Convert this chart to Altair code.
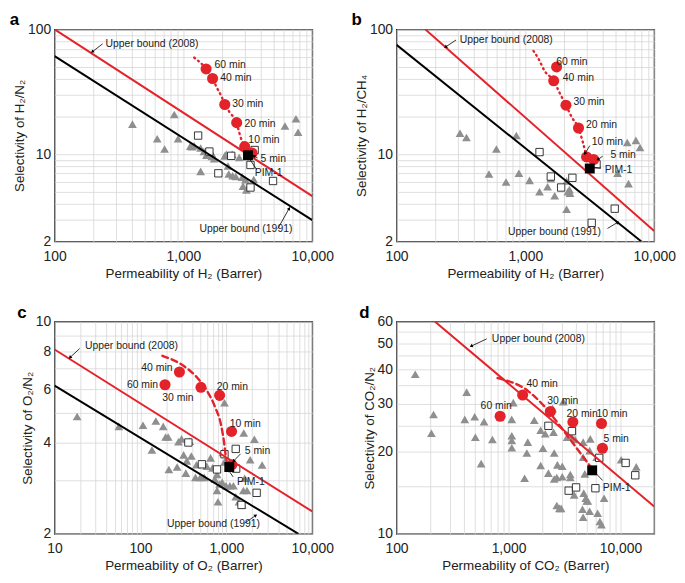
import math
import altair as alt
import pandas as pd

FONT = "Liberation Sans"
RED = "#e4222a"
TRI_GREY = "#8f8f8f"
W, H = 260, 214

# ---------------- panel a : H2/N2 ----------------
A_TRI_X = [402, 626, 714, 849, 909, 1132, 1213, 1167, 1360, 1442, 1526, 1663, 1360, 1663, 1730, 2090, 2150,
           2390, 2710, 2218, 2250, 2410, 2550, 2860, 3030, 2900, 3080, 3513, 6140, 7470, 7760, 1512]
A_TRI_Y = [17.4, 13.3, 11.0, 20.8, 13.3, 11.6, 11.7, 11.5, 11.2, 10.5, 10.0, 10.1, 7.28, 9.6, 9.2, 9.7, 10.0,
           10.0, 9.4, 8.05, 6.93, 6.73, 6.62, 6.55, 6.24, 5.55, 5.16, 6.27, 16.8, 19.2, 15.0, 9.8]
A_SQ_X = [1300, 1590, 1866, 2348, 3572, 3315, 4960, 3315]
A_SQ_Y = [14.1, 10.5, 7.03, 9.7, 10.8, 8.2, 6.1, 5.41]
A_RED_X = [1500, 1683, 2094, 2590, 2990, 3414]
A_RED_Y = [48.2, 40.4, 25.0, 17.9, 11.5, 10.2]
A_PIM = [3170, 9.8]
A_CURVE_X = [1213, 1500, 1683, 1809, 1972, 2094, 2304, 2590, 2707, 2835, 2990]
A_CURVE_Y = [59.4, 48.2, 40.4, 34.4, 29.1, 25.0, 21.4, 17.9, 15.0, 12.9, 11.5]
A_UB08_X = [100, 10000]
A_UB08_Y = [100, 4.61]
A_UB91_X = [100, 10000]
A_UB91_Y = [61, 2.96]
A_TXT = ["60 min", "40 min", "30 min", "20 min", "10 min", "5 min", "PIM-1", "Upper bound (2008)", "Upper bound (1991)"]
A_TXT_X = [1683, 1866, 2307, 2870, 3080, 3830, 3450, 240, 1284]
A_TXT_Y = [52.1, 40.4, 25.0, 17.4, 12.9, 9.07, 7.07, 76.6, 2.53]
A_TXT_AL = ["left"] * 9
A_ARR = [(3758, 9.34, 3508, 9.68), (3715, 7.5, 3218, 9.34), (236, 76.6, 196, 66), (5400, 2.53, 6620, 3.68)]

# ---------------- panel b : H2/CH4 ----------------
B_TRI_X = [311, 349, 596, 522, 708, 851, 891, 1078, 1288, 1488, 1689, 1576, 2089, 2138, 2220, 2089, 2200,
           5200, 6320, 6180, 7210, 7760]
B_TRI_Y = [14.7, 13.6, 11.0, 6.94, 5.99, 14.1, 7.03, 6.17, 5.01, 5.48, 4.64, 6.35, 6.09, 5.01, 4.88, 3.62, 5.2,
           7.03, 5.81, 12.4, 12.9, 11.3]
B_SQ_X = [1288, 1576, 2317, 1895, 3568, 4940, 3273]
B_SQ_Y = [10.4, 6.62, 6.47, 5.41, 8.29, 3.66, 2.82]
B_RED_X = [1748, 1660, 2065, 2585, 2985, 3388]
B_RED_Y = [50.0, 38.7, 24.7, 16.2, 9.51, 9.07]
B_PIM = [3162, 7.68]
B_CURVE_X = [1155, 1259, 1413, 1660, 1830, 2065, 2304, 2585, 2786, 2985]
B_CURVE_Y = [67.2, 58.6, 46.3, 38.7, 31.5, 24.7, 19.6, 16.2, 12.6, 9.51]
B_UB08_X = [167, 10000]
B_UB08_Y = [100, 2.42]
B_UB91_X = [100, 7950]
B_UB91_Y = [75.2, 2]
B_TXT = ["60 min", "40 min", "30 min", "20 min", "10 min", "5 min", "PIM-1", "Upper bound (2008)", "Upper bound (1991)"]
B_TXT_X = [1679, 1884, 2278, 2851, 3162, 4416, 3981, 299, 708]
B_TXT_Y = [54.6, 40.4, 26.4, 17.2, 12.6, 9.8, 7.5, 82.7, 2.39]
B_TXT_AL = ["left"] * 9
B_ARR = [(3162, 11.7, 2900, 10.1), (3981, 9.62, 3652, 9.07), (3868, 7.72, 3255, 7.91), (290, 82.2, 240, 72.2),
         (4340, 2.54, 5220, 2.85)]

# ---------------- panel c : O2/N2 ----------------
C_TRI_X = [18.3, 56, 107, 151, 184, 196, 210, 136, 277, 301, 318, 391, 346, 214, 267, 337, 437, 374, 449, 497,
           552, 591, 655, 690, 733, 778, 834, 894, 991, 1099, 1208, 1285, 1400, 778, 799, 1527, 1578, 950, 1593,
           2118, 1892, 2606, 909, 950, 1634, 1738]
C_TRI_Y = [4.87, 4.52, 4.56, 4.71, 4.52, 4.17, 4.17, 3.78, 4.02, 4.11, 3.64, 3.61, 3.48, 3.26, 3.32, 3.17, 3.07,
           4.04, 3.38, 3.07, 3.07, 3.34, 3.56, 3.30, 3.03, 3.14, 2.92, 2.96, 2.88, 2.88, 2.88, 2.65, 2.55, 2.78,
           2.55, 2.49, 2.78, 5.41, 4.30, 4.10, 3.51, 3.37, 3.71, 3.45, 3.05, 2.78]
C_SQ_X = [361, 519, 778, 950, 1285, 1300, 2250, 1500]
C_SQ_Y = [4.0, 3.39, 3.26, 3.66, 3.81, 3.28, 2.73, 2.49]
C_RED_X = [193, 284, 506, 834, 1148, 1158]
C_RED_Y = [6.20, 6.83, 6.08, 5.72, 4.35, 3.38]
C_PIM = [1081, 3.32]
C_CURVE_X = [180, 323, 456, 591, 733, 871, 950, 991, 1081]
C_CURVE_Y = [7.72, 7.13, 6.55, 5.94, 5.26, 4.54, 3.92, 3.55, 3.34]
C_UB08_X = [10, 10000]
C_UB08_Y = [8.10, 2.37]
C_UB91_X = [10, 6900]
C_UB91_Y = [6.16, 2]
C_TXT = ["60 min", "40 min", "30 min", "20 min", "10 min", "5 min", "PIM-1", "Upper bound (2008)", "Upper bound (1991)"]
C_TXT_X = [169, 249, 437, 733, 1035, 1552, 1262, 21.4, 193]
C_TXT_Y = [6.2, 7.05, 5.61, 6.08, 4.59, 3.75, 2.97, 8.32, 2.15]
C_TXT_AL = ["right", "right", "right", "left", "left", "left", "left", "left", "left"]
C_ARR = [(1462, 3.67, 1209, 3.47), (1199, 3.08, 1062, 3.24), (19.6, 8.16, 15.1, 7.62), (1636, 2.17, 2200, 2.30)]

# ---------------- panel d : CO2/N2 ----------------
D_TRI_X = [147, 214, 205, 423, 407, 499, 506, 570, 605, 718, 1104, 1069, 1070, 1070, 1070, 1392, 1486, 1458, 1698,
           1937, 1937, 2030, 2127, 2271, 2525, 2558, 2558, 2475, 2698, 2733, 3020, 3020, 3080, 2700, 2850, 2950,
           3334, 3562, 3562, 3683, 3855, 3935, 4580, 4641, 4641, 4700, 4800, 4900, 5000, 5100, 4641, 5300, 5370,
           5300, 6252, 6546, 6768, 7136, 10140, 13830, 6126]
D_TRI_Y = [38.5, 27.4, 23.4, 33.1, 26.3, 26.9, 22.6, 18.1, 25.8, 22.2, 30.3, 26.3, 22.9, 22.0, 20.7, 16.0, 21.7, 19.8,
           26.1, 24.0, 17.8, 20.6, 23.3, 16.7, 23.6, 19.8, 15.9, 28.8, 16.1, 17.9, 17.7, 16.2, 30.5, 12.7, 12.4, 12.4,
           22.6, 16.5, 16.1, 22.6, 13.9, 22.2, 12.3, 21.7, 19.1, 14.1, 16.6, 13.5, 13.2, 13.2, 11.5, 12.1, 22.3,
           20.2, 11.9, 11.1, 10.8, 13.5, 18.7, 17.6, 19.1]
D_SQ_X = [2271, 3683, 6457, 3446, 4013, 5970, 11120, 13550]
D_SQ_Y = [24.9, 23.8, 19.0, 14.4, 14.8, 14.7, 18.2, 16.4]
D_RED_X = [842, 1338, 2364, 3756, 6768, 6902]
D_RED_Y = [27.0, 32.3, 28.1, 25.7, 25.4, 20.6]
D_PIM = [5587, 17.1]
D_CURVE_X = [799, 1497, 2098, 2733, 4067, 5479]
D_CURVE_Y = [37.3, 33.4, 29.3, 25.6, 20.6, 17.5]
D_UB08_X = [221, 20000]
D_UB08_Y = [60, 12.6]
D_TXT = ["60 min", "40 min", "30 min", "20 min", "10 min", "5 min", "PIM-1", "Upper bound (2008)"]
D_TXT_X = [541, 1392, 2127, 3162, 5850, 6768, 6680, 682]
D_TXT_Y = [29.5, 35.3, 30.8, 27.5, 27.5, 22.2, 14.7, 51.7]
D_TXT_AL = ["left"] * 8
D_ARR = [(6918, 15.7, 5850, 16.9), (638, 51.9, 464, 48.8)]


def mults(lo, hi):
    out = []
    e = 10 ** math.floor(math.log10(lo) + 1e-9)
    while e <= hi:
        for m in range(1, 10):
            v = m * e
            if lo - 1e-9 <= v <= hi + 1e-9:
                out.append(v)
        e *= 10
    return sorted(set(out))


def lab_expr(vals):
    arr = ",".join(str(v) for v in vals)
    return f"indexof([{arr}], datum.value) >= 0 ? format(datum.value, ',') : ''"


def panel(letter, xdom, ydom, xgrid, ygrid, xlabs, ylabs, xtitle, ytitle,
          tri, sq, red, pim, curve, dash, ub08, ub91, txt, arrows):
    xax = alt.Axis(values=xgrid, labelExpr=lab_expr(xlabs), grid=True, ticks=False, domain=False,
                   labelFlush=False, labelOverlap=False, title=xtitle, labelFontSize=14, titleFontSize=13.5,
                   labelPadding=8, titlePadding=3, gridColor="#d6d6d6", gridWidth=0.8,
                   labelFont=FONT, titleFont=FONT, titleFontWeight="normal", labelColor="#222", titleColor="#222")
    yax = alt.Axis(values=ygrid, labelExpr=lab_expr(ylabs), grid=True, ticks=False, domain=False,
                   labelFlush=False, labelOverlap=False, title=ytitle, labelFontSize=14, titleFontSize=13.5,
                   labelPadding=4, titlePadding=1, gridColor="#d6d6d6", gridWidth=0.8,
                   labelFont=FONT, titleFont=FONT, titleFontWeight="normal", labelColor="#222", titleColor="#222")
    xs = alt.Scale(type="log", domain=xdom, nice=False)
    ys = alt.Scale(type="log", domain=ydom, nice=False)

    def X(f="x"):
        return alt.X(f"{f}:Q", scale=xs, axis=xax)

    def Y(f="y"):
        return alt.Y(f"{f}:Q", scale=ys, axis=yax)

    layers = []
    df = pd.DataFrame({"x": tri[0], "y": tri[1]})
    layers.append(alt.Chart(df).mark_point(shape="triangle-up", filled=True, color=TRI_GREY, size=78,
                                           opacity=1).encode(x=X(), y=Y()))
    df = pd.DataFrame({"x": sq[0], "y": sq[1]})
    layers.append(alt.Chart(df).mark_point(shape="square", filled=True, fill="white", stroke="#222",
                                           strokeWidth=0.9, size=55, opacity=1).encode(x=X(), y=Y()))
    if ub91 is not None:
        df = pd.DataFrame({"x": ub91[0], "y": ub91[1]})
        layers.append(alt.Chart(df).mark_line(color="black", strokeWidth=2, clip=True).encode(x=X(), y=Y()))
    df = pd.DataFrame({"x": ub08[0], "y": ub08[1]})
    layers.append(alt.Chart(df).mark_line(color=RED, strokeWidth=2, clip=True).encode(x=X(), y=Y()))
    df = pd.DataFrame({"x": curve[0], "y": curve[1], "o": list(range(len(curve[0])))})
    layers.append(alt.Chart(df).mark_line(color=RED, strokeWidth=2.4, strokeDash=dash, strokeCap="round",
                                          interpolate="monotone", clip=True)
                  .encode(x=X(), y=Y(), order="o:Q"))
    df = pd.DataFrame({"x": red[0], "y": red[1]})
    layers.append(alt.Chart(df).mark_circle(color=RED, size=125, opacity=1).encode(x=X(), y=Y()))
    df = pd.DataFrame({"x": [pim[0]], "y": [pim[1]]})
    layers.append(alt.Chart(df).mark_square(color="black", size=100, opacity=1).encode(x=X(), y=Y()))

    # arrows
    lx0, lx1 = math.log10(xdom[0]), math.log10(xdom[1])
    ly0, ly1 = math.log10(ydom[0]), math.log10(ydom[1])
    ax, ay, ax2, ay2, ang = [], [], [], [], []
    for (x1, y1, x2, y2) in arrows:
        ax.append(x1); ay.append(y1); ax2.append(x2); ay2.append(y2)
        dxp = W * (math.log10(x2) - math.log10(x1)) / (lx1 - lx0)
        dyp = -H * (math.log10(y2) - math.log10(y1)) / (ly1 - ly0)
        ang.append(math.degrees(math.atan2(dxp, -dyp)) % 360)
    df = pd.DataFrame({"x": ax, "y": ay, "x2": ax2, "y2": ay2, "a": ang})
    layers.append(alt.Chart(df).mark_rule(color="black", strokeWidth=0.8)
                  .encode(x=X(), y=Y(), x2="x2:Q", y2="y2:Q"))
    layers.append(alt.Chart(df).mark_point(shape="triangle-up", filled=True, color="black", size=14, opacity=1)
                  .encode(x=X("x2"), y=Y("y2"), angle=alt.Angle("a:Q", scale=None)))

    df = pd.DataFrame({"t": txt[0], "x": txt[1], "y": txt[2], "al": txt[3]})
    for al in ["left", "right"]:
        sub = df[df.al == al]
        if len(sub):
            layers.append(alt.Chart(sub).mark_text(align=al, baseline="middle", font=FONT, fontSize=10.5,
                                                   color="#222", dx=2 if al == "left" else -2)
                          .encode(x=X(), y=Y(), text="t:N"))

    return alt.layer(*layers).properties(
        width=W, height=H,
        title=alt.TitleParams(letter, anchor="start", fontSize=17, fontWeight="bold", font=FONT,
                              dx=-3, offset=-7, color="black"))


AX_H_GRID = mults(100, 10000)
pa = panel("a", [100, 10000], [2, 100], AX_H_GRID, mults(2, 100), [100, 1000, 10000], [2, 10, 100],
           "Permeability of H₂ (Barrer)", "Selectivity of H₂/N₂",
           (A_TRI_X, A_TRI_Y), (A_SQ_X, A_SQ_Y), (A_RED_X, A_RED_Y), A_PIM, (A_CURVE_X, A_CURVE_Y), [1, 4],
           (A_UB08_X, A_UB08_Y), (A_UB91_X, A_UB91_Y), (A_TXT, A_TXT_X, A_TXT_Y, A_TXT_AL), A_ARR)
pb = panel("b", [100, 10000], [2, 100], AX_H_GRID, mults(2, 100), [100, 1000, 10000], [2, 10, 100],
           "Permeability of H₂ (Barrer)", "Selectivity of H₂/CH₄",
           (B_TRI_X, B_TRI_Y), (B_SQ_X, B_SQ_Y), (B_RED_X, B_RED_Y), B_PIM, (B_CURVE_X, B_CURVE_Y), [1, 4],
           (B_UB08_X, B_UB08_Y), (B_UB91_X, B_UB91_Y), (B_TXT, B_TXT_X, B_TXT_Y, B_TXT_AL), B_ARR)
pc = panel("c", [10, 10000], [2, 10], mults(10, 10000), [2, 3, 4, 5, 6, 7, 8, 9, 10], [10, 100, 1000, 10000],
           [2, 4, 6, 8, 10],
           "Permeability of O₂ (Barrer)", "Selectivity of O₂/N₂",
           (C_TRI_X, C_TRI_Y), (C_SQ_X, C_SQ_Y), (C_RED_X, C_RED_Y), C_PIM, (C_CURVE_X, C_CURVE_Y), [6, 4],
           (C_UB08_X, C_UB08_Y), (C_UB91_X, C_UB91_Y), (C_TXT, C_TXT_X, C_TXT_Y, C_TXT_AL), C_ARR)
pd_ = panel("d", [100, 20000], [10, 60], mults(100, 20000), [10, 15, 20, 25, 30, 35, 40, 45, 50, 55, 60],
            [100, 1000, 10000], [10, 20, 30, 40, 50, 60],
            "Permeability of CO₂ (Barrer)", "Selectivity of CO₂/N₂",
            (D_TRI_X, D_TRI_Y), (D_SQ_X, D_SQ_Y), (D_RED_X, D_RED_Y), D_PIM, (D_CURVE_X, D_CURVE_Y), [6, 4],
            (D_UB08_X, D_UB08_Y), None, (D_TXT, D_TXT_X, D_TXT_Y, D_TXT_AL), D_ARR)

chart = alt.concat(pa, pb, pc, pd_, columns=2, spacing={"row": 81, "column": 85}, bounds="flush").properties(
    padding={"left": 0, "top": 0, "right": 0, "bottom": 0}
).configure(font=FONT, background="white").configure_view(stroke="black", strokeWidth=1.3)

chart.save("out.html", embed_options={"renderer": "svg", "actions": False})
